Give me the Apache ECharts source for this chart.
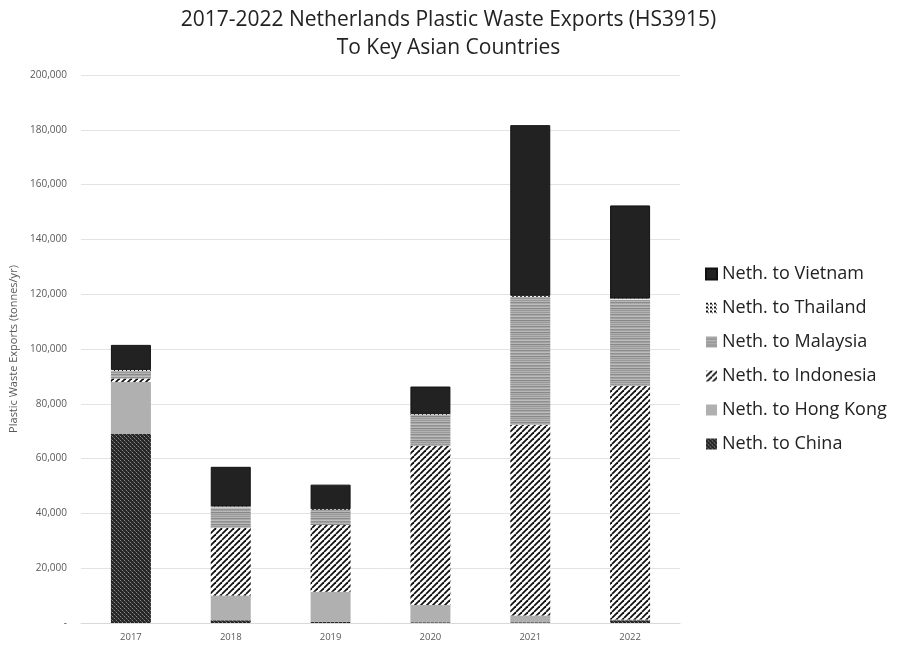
<!DOCTYPE html>
<html><head><meta charset="utf-8">
<script src="https://cdn.jsdelivr.net/npm/echarts@6/dist/echarts.min.js"></script>
<style>html,body{margin:0;padding:0;background:#fff}#c{width:897px;height:646px}</style>
</head><body><div id="c"></div>
<script>
const years = ['2017','2018','2019','2020','2021','2022'];
const china     = [69000, 1000, 500, 300, 300, 1000];
const hongKong  = [19000, 9000, 10900, 6300, 2400, 300];
const indonesia = [1200, 24800, 24400, 58000, 69600, 85200];
const malaysia  = [2800, 7400, 5400, 11300, 46800, 31600];
const thailand  = [300, 300, 300, 300, 300, 300];
const vietnam   = [9200, 14500, 9000, 10100, 62300, 34000];
const seriesNames = ['Neth. to China','Neth. to Hong Kong','Neth. to Indonesia','Neth. to Malaysia','Neth. to Thailand','Neth. to Vietnam'];
const yTicks = {min:0, max:200000, interval:20000};

function pat(w,h,draw){const c=document.createElement('canvas');c.width=w;c.height=h;const g=c.getContext('2d');draw(g,w,h);return {image:c,repeat:'repeat'};}
const pChina = pat(4,4,(g)=>{g.fillStyle='#262626';g.fillRect(0,0,4,4);g.fillStyle='#8a8a8a';g.fillRect(0,0,1,1);g.fillRect(2,2,1,1);g.fillStyle='#555';g.fillRect(1,1,1,1);g.fillRect(3,3,1,1);});
const pIndo = pat(6,6,(g)=>{g.fillStyle='#fff';g.fillRect(0,0,6,6);g.strokeStyle='#111';g.lineWidth=1.8;
  for(const o of [-6,0,6]){g.beginPath();g.moveTo(o,6);g.lineTo(o+6,0);g.stroke();}});
const pMal = pat(2,12,(g)=>{const cols=['#9a9a9a','#b5b5b5','#8c8c8c','#a8a8a8','#bdbdbd','#909090','#a0a0a0','#b8b8b8','#888','#adadad','#999','#b2b2b2'];cols.forEach((c,i)=>{g.fillStyle=c;g.fillRect(0,i,2,1);});});
const pThai = pat(4,4,(g)=>{g.fillStyle='#fff';g.fillRect(0,0,4,4);g.fillStyle='#111';g.fillRect(0,0,2,2);g.fillRect(2,2,1,1);});

const colors = [pChina, '#b0b0b0', pIndo, pMal, pThai, '#222222'];
const datas = [china, hongKong, indonesia, malaysia, thailand, vietnam];

const chart = echarts.init(document.getElementById('c'));
chart.setOption({
  animation:false,
  backgroundColor:'#fff',
  title:{text:'2017-2022 Netherlands Plastic Waste Exports (HS3915)\nTo Key Asian Countries',left:'center',top:1,
    textStyle:{fontFamily:'Open Sans',fontSize:21,fontWeight:'normal',color:'#222',lineHeight:28}},
  legend:{orient:'vertical',left:700,top:260,itemWidth:11,itemHeight:11,itemGap:16,icon:'rect',
    data:seriesNames.slice().reverse(),
    textStyle:{fontFamily:'Open Sans',fontSize:18,color:'#222'}},
  grid:{left:80,right:217,top:75,bottom:23},
  xAxis:{type:'category',data:years,axisTick:{show:false},
    axisLine:{lineStyle:{color:'#d9d9d9'}},
    axisLabel:{fontFamily:'Open Sans',fontSize:9.5,color:'#595959',margin:9}},
  yAxis:{type:'value',min:yTicks.min,max:yTicks.max,interval:yTicks.interval,
    name:'Plastic Waste Exports (tonnes/yr)',nameLocation:'middle',nameGap:62,
    nameTextStyle:{fontFamily:'Open Sans',fontSize:11,color:'#595959'},
    axisLabel:{fontFamily:'Open Sans',fontSize:10,color:'#595959',margin:14,
      formatter:v=>v===0?'-':v.toLocaleString('en-US')},
    splitLine:{lineStyle:{color:'#e3e3e3'}}},
  series: seriesNames.map((n,i)=>({name:n,type:'bar',stack:'t',barWidth:40,data:datas[i],
    itemStyle:{color:colors[i],borderColor:i===5?'#111':'transparent',borderWidth:i===5?1:0}}))
});
</script></body></html>
